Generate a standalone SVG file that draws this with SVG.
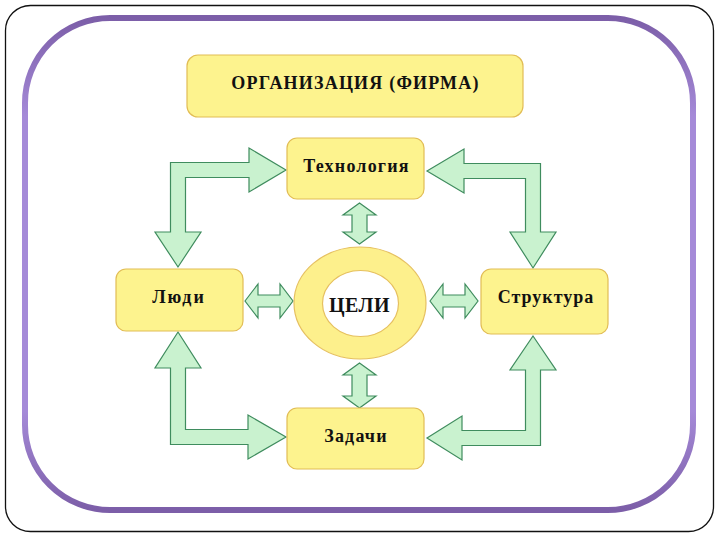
<svg xmlns="http://www.w3.org/2000/svg" width="720" height="540" viewBox="0 0 720 540">
<defs>
<style>
.box{fill:#fdf38e;stroke:#e2bd55;stroke-width:1.2}
.ring{fill:#fdf08c;stroke:#e6c060;stroke-width:1.2;fill-rule:evenodd}
.arr{fill:#c9f2cf;stroke:#3f8c5e;stroke-width:1.2;stroke-linejoin:miter}
.t{font-weight:bold;fill:#111;text-anchor:middle;font-size:18px;letter-spacing:1.2px}
</style>
<linearGradient id="pg" x1="0" y1="0" x2="0" y2="1">
<stop offset="0" stop-color="#7c5ea8"/>
<stop offset="0.2" stop-color="#a58ad8"/>
<stop offset="0.8" stop-color="#a58ad8"/>
<stop offset="1" stop-color="#7c5ea8"/>
</linearGradient>
</defs>
<rect x="0" y="0" width="720" height="540" fill="#ffffff"/>
<rect x="5.5" y="5.5" width="708" height="526" rx="25" fill="#ffffff" stroke="#111" stroke-width="1.3"/>
<rect x="25" y="18" width="668" height="492" rx="85" fill="#ffffff" stroke="url(#pg)" stroke-width="6"/>

<g id="connectors">
<path class="arr" d="M286,170 L249,148 L249,162.5 L170.5,162.5 L170.5,232 L155,232 L178,267 L201,232 L185.5,232 L185.5,177.5 L249,177.5 L249,192 Z"/>
<path class="arr" d="M427,171 L464,149 L464,163.5 L540.5,163.5 L540.5,232 L556,232 L533,268 L510,232 L525.5,232 L525.5,178.5 L464,178.5 L464,193 Z"/>
<path class="arr" d="M178,332 L201,368 L185.5,368 L185.5,429.5 L248,429.5 L248,415 L286,437 L248,459 L248,444.5 L170.5,444.5 L170.5,368 L155,368 Z"/>
<path class="arr" d="M533,336 L556,370 L540.5,370 L540.5,445.5 L462,445.5 L462,460 L427,438 L462,416 L462,430.5 L525.5,430.5 L525.5,370 L510,370 Z"/>
<path class="arr" d="M359.5,203 L376,215 L367,215 L367,232 L376,232 L359.5,244 L343,232 L352,232 L352,215 L343,215 Z"/>
<path class="arr" d="M359.5,363 L376,375 L367,375 L367,396 L376,396 L359.5,408 L343,396 L352,396 L352,375 L343,375 Z"/>
<path class="arr" d="M245,301 L258,284 L258,295 L280,295 L280,284 L293,301 L280,318 L280,307 L258,307 L258,318 Z"/>
<path class="arr" d="M430,301 L443,284 L443,295 L465,295 L465,284 L478,301 L465,318 L465,307 L443,307 L443,318 Z"/>
</g>

<g id="org">
<rect class="box" x="187" y="55" width="336" height="62" rx="11"/>
<text class="t" font-family="'Liberation Serif', 'DejaVu Serif', serif" x="355.5" y="89">ОРГАНИЗАЦИЯ (ФИРМА)</text>
</g>
<g id="tech">
<rect class="box" x="287" y="138" width="137" height="61" rx="10"/>
<text class="t" font-family="'Liberation Serif', 'DejaVu Serif', serif" x="356.5" y="172">Технология</text>
</g>
<g id="people">
<rect class="box" x="116" y="269" width="127" height="62" rx="10"/>
<text class="t" font-family="'Liberation Serif', 'DejaVu Serif', serif" x="179" y="303" style="letter-spacing:2px">Люди</text>
</g>
<g id="structure">
<rect class="box" x="481" y="269" width="127" height="65" rx="10"/>
<text class="t" font-family="'Liberation Serif', 'DejaVu Serif', serif" x="546" y="303" style="letter-spacing:1px">Структура</text>
</g>
<g id="tasks">
<rect class="box" x="287" y="408" width="137" height="61" rx="10"/>
<text class="t" font-family="'Liberation Serif', 'DejaVu Serif', serif" x="356" y="442">Задачи</text>
</g>
<g id="goals">
<path class="ring" d="M294,303 A66,56 0 1,0 426,303 A66,56 0 1,0 294,303 Z M322.5,303.5 A38,33 0 1,1 398.5,303.5 A38,33 0 1,1 322.5,303.5 Z"/>
<text class="t" font-family="'Liberation Serif', 'DejaVu Serif', serif" x="359.5" y="312" style="font-size:20px;letter-spacing:0.5px">ЦЕЛИ</text>
</g>
</svg>
